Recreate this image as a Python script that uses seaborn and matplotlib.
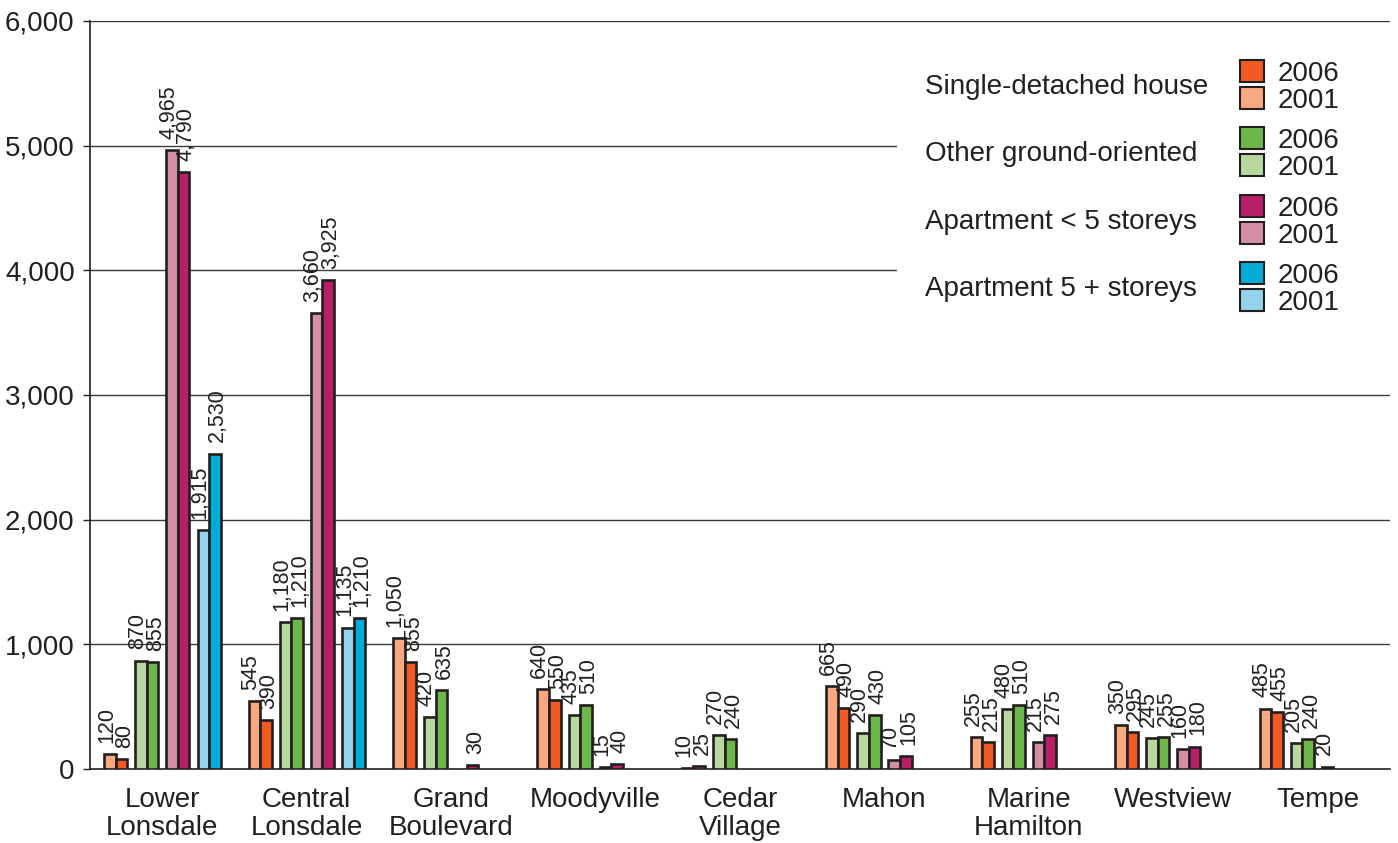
import numpy as np
import pandas as pd
import matplotlib
matplotlib.use("Agg")
import matplotlib.pyplot as plt
from matplotlib.patches import Patch, Rectangle
import seaborn as sns

# ---------------- data ----------------
neighbourhoods = ["Lower\nLonsdale", "Central\nLonsdale", "Grand\nBoulevard", "Moodyville",
                  "Cedar\nVillage", "Mahon", "Marine\nHamilton", "Westview", "Tempe"]
types = ["Single-detached house", "Other ground-oriented",
         "Apartment < 5 storeys", "Apartment 5 + storeys"]
years = ["2001", "2006"]

single_2001 = [120, 545, 1050, 640, 10, 665, 255, 350, 485]
single_2006 = [80, 390, 855, 550, 25, 490, 215, 295, 455]
other_2001 = [870, 1180, 420, 435, 270, 290, 480, 245, 205]
other_2006 = [855, 1210, 635, 510, 240, 430, 510, 255, 240]
apt_low_2001 = [4965, 3660, np.nan, 15, np.nan, 70, 215, 160, 20]
apt_low_2006 = [4790, 3925, 30, 40, np.nan, 105, 275, 180, np.nan]
apt_high_2001 = [1915, 1135, np.nan, np.nan, np.nan, np.nan, np.nan, np.nan, np.nan]
apt_high_2006 = [2530, 1210, np.nan, np.nan, np.nan, np.nan, np.nan, np.nan, np.nan]

yticks_vals = [0, 1000, 2000, 3000, 4000, 5000, 6000]

series_values = {
    (types[0], "2001"): single_2001, (types[0], "2006"): single_2006,
    (types[1], "2001"): other_2001, (types[1], "2006"): other_2006,
    (types[2], "2001"): apt_low_2001, (types[2], "2006"): apt_low_2006,
    (types[3], "2001"): apt_high_2001, (types[3], "2006"): apt_high_2006,
}

colors = {
    (types[0], "2006"): "#F15A22", (types[0], "2001"): "#F8A980",
    (types[1], "2006"): "#6DB74A", (types[1], "2001"): "#B8D8A0",
    (types[2], "2006"): "#B72064", (types[2], "2001"): "#D48FA4",
    (types[3], "2006"): "#00ADD8", (types[3], "2001"): "#93D3EB",
}

# layout of bars inside each neighbourhood group (style, not data)
type_offset = {types[0]: -0.322, types[1]: -0.107, types[2]: 0.108, types[3]: 0.326}
year_offset = {"2001": -0.04, "2006": 0.04}
label_dx = {"2001": -2.5, "2006": 2.0}

rows = []
for (t, y), vals in series_values.items():
    for gi, v in enumerate(vals):
        if np.isnan(v):
            continue
        rows.append({"pos": round(gi + type_offset[t] + year_offset[y], 4),
                     "value": v, "series": f"{t} {y}"})
df = pd.DataFrame(rows)
hue_order = [f"{t} {y}" for t in types for y in years]
palette = {f"{t} {y}": colors[(t, y)] for t in types for y in years}

# ---------------- plot ----------------
sns.set_style("white")
plt.rcParams["font.family"] = ["Liberation Sans", "DejaVu Sans"]
TXT = "#231F20"

fig = plt.figure(figsize=(13.98, 8.43), dpi=100)
ax = fig.add_axes([90 / 1398, 1 - 769 / 843, 1300 / 1398, 748 / 843])

sns.barplot(data=df, x="pos", y="value", hue="series", hue_order=hue_order,
            palette=palette, saturation=1, native_scale=True, dodge=False, width=1.0,
            errorbar=None, edgecolor=TXT, linewidth=1.9, legend=False, ax=ax,
            zorder=3)

present = [h for h in hue_order if h in set(df["series"])]
for cont, name in zip(ax.containers, present):
    yr = name.split()[-1]
    anns = ax.bar_label(cont, labels=[f"{b.get_height():,.0f}" for b in cont],
                        rotation=90, padding=8, fontsize=15.5, color=TXT)
    for a in anns:
        a.xyann = (label_dx[yr], 8)

ax.set_xlim(-0.5, 8.5)
ax.set_ylim(0, 6000)
ax.set_yticks(yticks_vals)
ax.set_yticklabels([f"{v:,}" for v in yticks_vals], fontsize=20, color=TXT)
ax.set_xticks(range(len(neighbourhoods)))
ax.set_xticklabels(neighbourhoods, fontsize=20, color=TXT, linespacing=1.1)
ax.set_xticks(np.arange(-0.5, 9, 1), minor=True)
ax.tick_params(axis="x", which="major", length=0, pad=13)
ax.tick_params(axis="x", which="minor", length=6, width=1, color=TXT, direction="out")
ax.tick_params(axis="y", length=5, width=1, color=TXT, direction="out", pad=6, left=True)
ax.set_xlabel("")
ax.set_ylabel("")
ax.grid(False)
for v in yticks_vals[1:]:
    ax.axhline(v, color="#3a3a3a", lw=1.0, zorder=1)

for s in ["top", "right"]:
    ax.spines[s].set_visible(False)
for s in ["left", "bottom"]:
    ax.spines[s].set_visible(True)
    ax.spines[s].set_color(TXT)
    ax.spines[s].set_linewidth(1.2)

# ---------------- legend ----------------
# white legend background hiding grid lines behind it
fig.patches.append(Rectangle((897 / 1398, 1 - 325 / 843), 501 / 1398, 270 / 843,
                             transform=fig.transFigure, facecolor="white",
                             edgecolor="none", zorder=1))
legend_y = [87, 154, 222, 289]
for t, yc in zip(types, legend_y):
    fig.text(925 / 1398, 1 - yc / 843, t, fontsize=20, color=TXT, va="center",
             ha="left", zorder=3)
    handles = [Patch(facecolor=colors[(t, "2006")], edgecolor=TXT, linewidth=1.5),
               Patch(facecolor=colors[(t, "2001")], edgecolor=TXT, linewidth=1.5)]
    leg = fig.legend(handles, ["2006", "2001"], loc="center left",
                     bbox_to_anchor=(1240 / 1398, 1 - yc / 843),
                     bbox_transform=fig.transFigure, frameon=False, fontsize=20,
                     handlelength=0.85, handleheight=0.85, handletextpad=0.5,
                     labelspacing=0.0, borderpad=0, borderaxespad=0)
    for txt in leg.get_texts():
        txt.set_color(TXT)

fig.savefig("out.png", dpi=100)
